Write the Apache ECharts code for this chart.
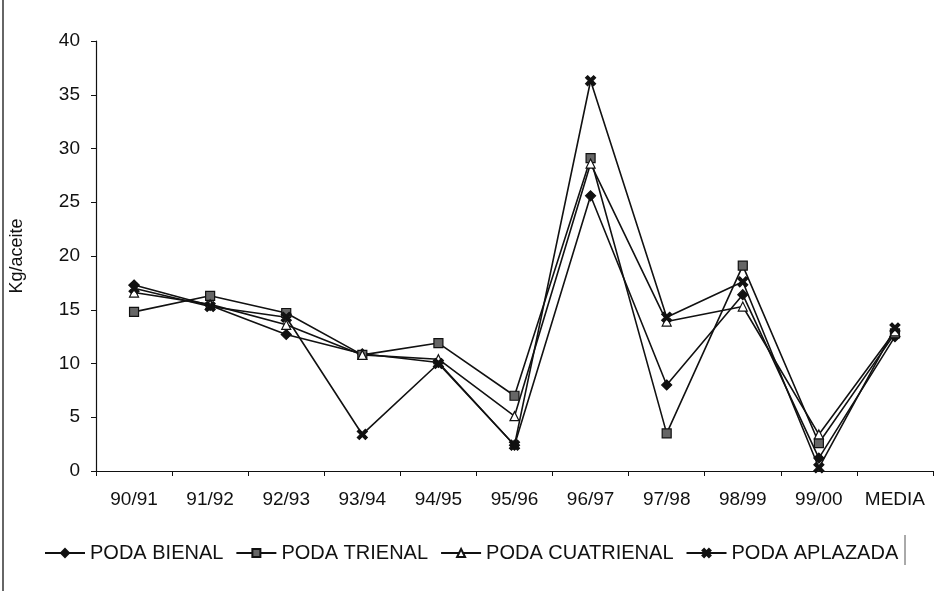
<!DOCTYPE html>
<html>
<head>
<meta charset="utf-8">
<script src="https://cdn.jsdelivr.net/npm/echarts@6/dist/echarts.min.js"></script>
<style>
  html, body { margin: 0; padding: 0; background: #fff; }
  #chart { width: 935px; height: 591px; }
</style>
</head>
<body>
<div id="chart"></div>
<script>
var categories = ['90/91', '91/92', '92/93', '93/94', '94/95', '95/96', '96/97', '97/98', '98/99', '99/00', 'MEDIA'];
var podaBienal = [17.3, 15.4, 12.7, 10.9, 10.1, 2.4, 25.6, 8.0, 16.4, 1.2, 12.5];
var podaTrienal = [14.8, 16.3, 14.7, 10.8, 11.9, 7.0, 29.1, 3.5, 19.1, 2.6, 12.8];
var podaCuatrienal = [16.6, 15.5, 13.6, 10.8, 10.4, 5.1, 28.6, 13.9, 15.3, 3.4, 13.0];
var podaAplazada = [17.0, 15.3, 14.3, 3.4, 10.0, 2.4, 36.3, 14.3, 17.6, 0.3, 13.3];

var crossPath = 'path://M2,0 L5,3 L8,0 L10,2 L7,5 L10,8 L8,10 L5,7 L2,10 L0,8 L3,5 L0,2 Z';

var myChart = echarts.init(document.getElementById('chart'));

function makeSeries(name, data, symbol, size, fill) {
    return {
        name: name,
        type: 'line',
        data: data,
        symbol: symbol,
        symbolSize: size,
        showAllSymbol: true,
        lineStyle: { color: '#111', width: 1.6 },
        itemStyle: { color: fill, borderColor: '#111', borderWidth: 1.2 },
        emphasis: { disabled: true },
        animation: false
    };
}

var option = {
    backgroundColor: '#fff',
    textStyle: { fontFamily: 'Liberation Sans, Arial, sans-serif', color: '#111' },
    grid: { left: 91, right: 2, top: 41, bottom: 120, containLabel: false },
    legend: {
        left: 39,
        top: 538,
        itemWidth: 40,
        itemHeight: 10,
        itemGap: 12,
        textStyle: { fontSize: 20, color: '#111' },
        data: ['PODA BIENAL', 'PODA TRIENAL', 'PODA CUATRIENAL', 'PODA APLAZADA']
    },
    xAxis: {
        type: 'category',
        data: categories,
        boundaryGap: true,
        axisLine: { lineStyle: { color: '#111', width: 1.2 } },
        axisTick: { show: true, length: 5, lineStyle: { color: '#111' } },
        axisLabel: { fontSize: 19, color: '#111', margin: 19, interval: 0 },
        splitLine: { show: false }
    },
    yAxis: {
        type: 'value',
        min: 0,
        max: 40,
        interval: 5,
        name: 'Kg/aceite',
        nameLocation: 'middle',
        nameGap: 70,
        nameTextStyle: { fontSize: 18, color: '#111' },
        axisLine: { show: true, lineStyle: { color: '#111', width: 1.2 } },
        axisTick: { show: true, length: 5, lineStyle: { color: '#111' } },
        axisLabel: { fontSize: 19, color: '#111', margin: 16 },
        splitLine: { show: false }
    },
    graphic: [
        { type: 'line', shape: { x1: 3, y1: 0, x2: 3, y2: 591 }, style: { stroke: '#333', lineWidth: 1.5 } },
        { type: 'line', shape: { x1: 905, y1: 535, x2: 905, y2: 565 }, style: { stroke: '#555', lineWidth: 1 } }
    ],
    series: [
        makeSeries('PODA BIENAL', podaBienal, 'diamond', 10, '#111'),
        makeSeries('PODA TRIENAL', podaTrienal, 'rect', 9, '#666'),
        makeSeries('PODA CUATRIENAL', podaCuatrienal, 'triangle', 9, '#fff'),
        makeSeries('PODA APLAZADA', podaAplazada, crossPath, 10, '#111')
    ]
};

myChart.setOption(option);
</script>
</body>
</html>
